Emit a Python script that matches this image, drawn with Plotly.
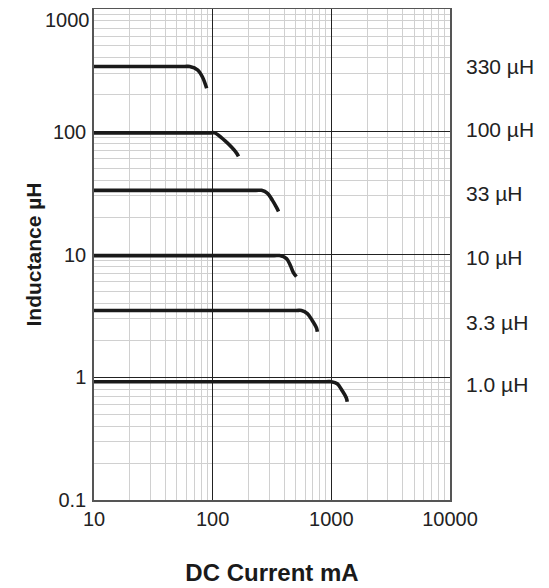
import math
import plotly.graph_objects as go

# ---- data ----
labels = ["330 µH", "100 µH", "33 µH", "10 µH", "3.3 µH", "1.0 µH"]

current_330 = [10, 58, 64, 75, 82, 89]
induct_330 = [340, 340, 340, 318, 279, 226]

current_100 = [10, 95, 104, 126, 144, 159, 165]
induct_100 = [98, 98, 98, 85, 75, 67, 63]

current_33 = [10, 232, 258, 290, 319, 345, 359]
induct_33 = [33.3, 33.3, 33.3, 31.5, 27.6, 24.2, 22.4]

current_10 = [10, 330, 366, 419, 452, 479, 508]
induct_10 = [9.8, 9.8, 9.8, 9.27, 8.13, 7.13, 6.61]

current_3p3 = [10, 505, 560, 628, 692, 748, 762]
induct_3p3 = [3.5, 3.5, 3.5, 3.3, 2.89, 2.54, 2.35]

current_1p0 = [10, 900, 1000, 1122, 1236, 1336, 1361]
induct_1p0 = [0.92, 0.92, 0.92, 0.885, 0.776, 0.681, 0.631]

x_tickvals = [10, 100, 1000, 10000]
x_ticktext = ["10", "100", "1000", "10000"]
y_tickvals = [0.1, 1, 10, 100, 1000]
y_ticktext = ["0.1", "1", "10", "100", "1000"]

series = [
    (current_330, induct_330),
    (current_100, induct_100),
    (current_33, induct_33),
    (current_10, induct_10),
    (current_3p3, induct_3p3),
    (current_1p0, induct_1p0),
]
label_yshift = [0, 3, -3, -2, -12, -3]

FONT = "Liberation Sans, Arial, Helvetica, sans-serif"

fig = go.Figure()
for (xs, ys), name in zip(series, labels):
    fig.add_trace(go.Scatter(
        x=xs, y=ys, mode="lines", name=name,
        line=dict(color="#1a1a1a", width=3.6, shape="spline", smoothing=1.0),
        showlegend=False, hoverinfo="skip",
    ))

for (xs, ys), name, ysh in zip(series, labels, label_yshift):
    fig.add_annotation(
        x=1, xref="paper", y=math.log10(ys[0]), yref="y",
        text=name, showarrow=False, xanchor="left", yanchor="middle",
        xshift=14, yshift=ysh,
        font=dict(family=FONT, size=21, color="#222"),
    )

# topmost y tick label sits at the very top edge: draw it as a label hanging just below the edge
fig.add_annotation(
    x=0, xref="paper", y=math.log10(y_tickvals[-1]), yref="y",
    text=y_ticktext[-1], showarrow=False, xanchor="right", yanchor="top",
    xshift=-2, yshift=2,
    font=dict(family="Liberation Sans, Arial, Helvetica, sans-serif", size=20, color="#222"),
)

axis_common = dict(
    type="log",
    showline=True, linecolor="#555", linewidth=1.5, mirror=True,
    showgrid=True, gridcolor="#222", gridwidth=1,
    ticks="", zeroline=False, automargin=False,
    ticklabeloverflow="allow",
    tickfont=dict(family=FONT, size=20, color="#222"),
    minor=dict(dtick="D1", showgrid=True, gridcolor="#d0d0d0", gridwidth=1.3, ticks=""),
)

fig.update_xaxes(
    **axis_common,
    range=[1, 4],
    tickmode="array", tickvals=x_tickvals, ticktext=x_ticktext,
    ticklabelstandoff=0,
    title=dict(text="DC Current mA", standoff=35,
               font=dict(family=FONT, size=24, color="#1a1a1a", weight="bold")),
)
fig.update_yaxes(
    **axis_common,
    range=[-1, 3],
    tickmode="array", tickvals=y_tickvals, ticktext=y_ticktext[:-1] + [""],
    ticklabelstandoff=2,
    title=dict(text="Inductance µH", standoff=6,
               font=dict(family=FONT, size=21, color="#1a1a1a", weight="bold")),
)

# the page body adds an 8px margin, so the figure is sized/offset to compensate
fig.update_layout(
    width=541, height=580,
    margin=dict(l=86, r=99, t=1, b=88),
    paper_bgcolor="white", plot_bgcolor="white",
)

fig.write_html("out.html")
